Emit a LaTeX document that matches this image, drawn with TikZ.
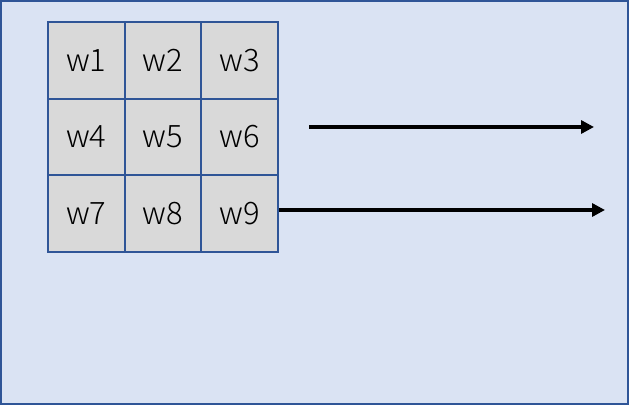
\documentclass[tikz,border=0pt]{standalone}
\usepackage{fontspec}
\newfontfamily\jpfont{Noto Sans CJK JP Light}
\usetikzlibrary{arrows.meta,positioning}
\definecolor{bgblue}{HTML}{DAE3F3}
\definecolor{edgeblue}{HTML}{2F5597}
\definecolor{cellgray}{HTML}{D9D9D9}
\tikzset{
  cell/.style={draw=edgeblue,fill=cellgray,line width=1.5pt,minimum size=1.917cm,
    inner sep=0pt,font=\jpfont\fontsize{22}{22}\selectfont},
  flow/.style={line width=2.4pt,-{Triangle[length=0.32cm,width=0.32cm]}}
}
\begin{document}
\begin{tikzpicture}[x=0.025cm,y=-0.025cm]
\useasboundingbox (0,0) rectangle (629,405);
\draw[edgeblue,fill=bgblue,line width=1.5pt] (1,1) rectangle (628,404);

\foreach \r in {0,1,2}{
\foreach \c in {0,1,2}{
\pgfmathtruncatemacro{\k}{3*\r+\c+1}
\node[cell] (w\k) at (86.3+76.7*\c,60.3+76.7*\r) {w\k};
}}

\coordinate (a1s) at (309,127);
\coordinate (a1e) at (594,127);
\coordinate (a2s) at (w9.east |- 0,210);
\coordinate (a2e) at (605,210);

\draw[flow] (a1s) -- (a1e);
\draw[flow] (a2s) -- (a2e);
\end{tikzpicture}
\end{document}
